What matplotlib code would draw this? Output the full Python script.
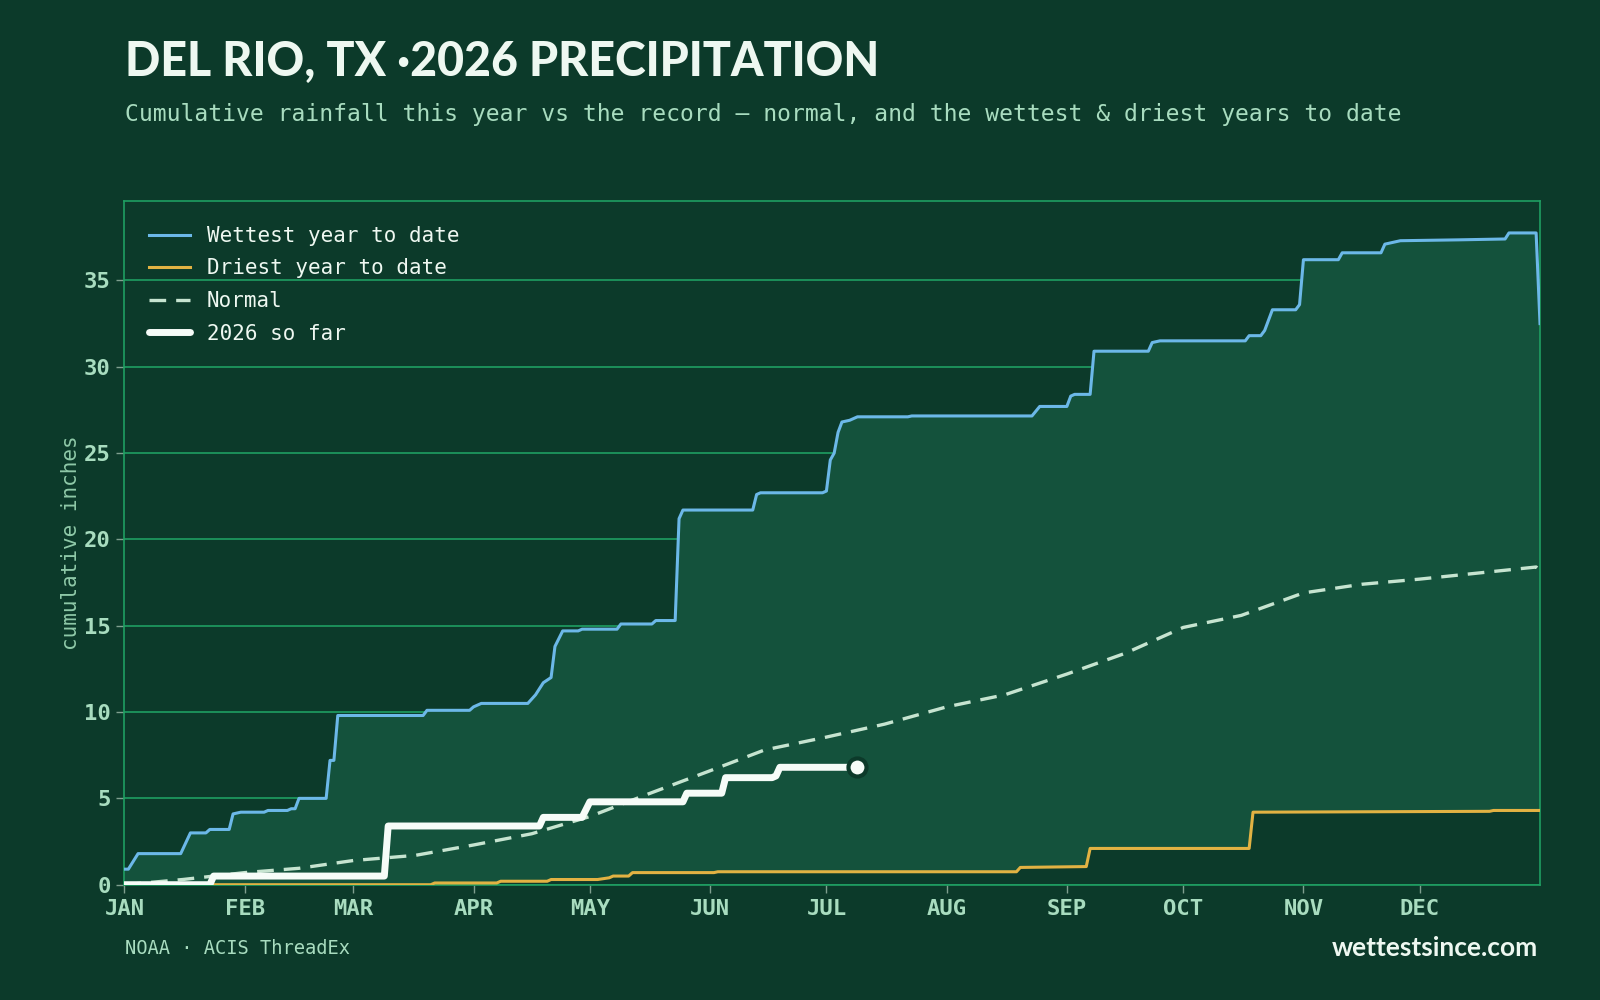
import numpy as np
import matplotlib
matplotlib.use("Agg")
import matplotlib.pyplot as plt

# ==================================
# DATA (day of year, cumulative inches)
# ==================================

month_labels = ["JAN", "FEB", "MAR", "APR", "MAY", "JUN",
                "JUL", "AUG", "SEP", "OCT", "NOV", "DEC"]
month_days = [0, 31, 59, 90, 120, 151, 181, 212, 243, 273, 304, 334]

wet_day = [0, 1, 3.5, 14.5, 17, 21, 22, 27, 28, 30, 36, 37, 42, 43, 44, 45,
           52, 53, 54, 55, 77, 78, 89, 90, 92, 104, 106, 108, 110, 111, 113,
           117, 118, 127, 128, 136, 137, 142, 143, 144, 162, 163, 164, 180,
           181, 182, 183, 184, 185, 187, 189, 202, 203, 234, 236, 243, 244,
           245, 249, 250, 264, 265, 267, 289, 290, 293, 294, 296, 302, 303,
           304, 313, 314, 324, 325, 329, 344, 356, 357, 364, 365]
wet_val = [0.9, 0.9, 1.8, 1.8, 3.0, 3.0, 3.2, 3.2, 4.1, 4.2, 4.2, 4.3, 4.3,
           4.4, 4.4, 5.0, 5.0, 7.2, 7.2, 9.8, 9.8, 10.1, 10.1, 10.3, 10.5,
           10.5, 11.0, 11.7, 12.0, 13.8, 14.7, 14.7, 14.8, 14.8, 15.1, 15.1,
           15.3, 15.3, 21.2, 21.7, 21.7, 22.6, 22.7, 22.7, 22.8, 24.6, 25.0,
           26.2, 26.8, 26.9, 27.1, 27.1, 27.15, 27.15, 27.7, 27.7, 28.3, 28.4,
           28.4, 30.9, 30.9, 31.4, 31.5, 31.5, 31.8, 31.8, 32.1, 33.3, 33.3,
           33.6, 36.2, 36.2, 36.6, 36.6, 37.1, 37.3, 37.35, 37.4, 37.75, 37.75,
           32.5]

dry_day = [0, 79, 80, 96, 97, 109, 110, 122, 125, 126, 130, 131, 152, 153,
           230, 231, 248, 249, 290, 291, 352, 353, 365]
dry_val = [0.0, 0.0, 0.1, 0.1, 0.2, 0.2, 0.3, 0.3, 0.4, 0.5, 0.5, 0.7, 0.7,
           0.75, 0.75, 1.0, 1.05, 2.1, 2.1, 4.2, 4.25, 4.3, 4.3]

normal_day = [0, 15, 31, 45, 59, 75, 90, 105, 120, 135, 151, 165, 181, 196,
              212, 227, 243, 258, 273, 288, 304, 319, 334, 349, 364, 365]
normal_val = [0.0, 0.3, 0.7, 0.95, 1.4, 1.7, 2.3, 2.95, 3.95, 5.25, 6.6, 7.8,
              8.55, 9.3, 10.3, 11.0, 12.2, 13.4, 14.9, 15.6, 16.9, 17.4, 17.7,
              18.05, 18.4, 18.2]

now_day = [0, 22, 23, 67, 68, 107, 108, 118, 120, 144, 145, 154, 155, 167,
           168, 169, 189]
now_val = [0.0, 0.0, 0.5, 0.5, 3.4, 3.4, 3.9, 3.9, 4.8, 4.8, 5.3, 5.3, 6.2,
           6.2, 6.3, 6.8, 6.8]

# ==================================
# STYLE
# ==================================

BG = "#0c3a2a"
BAND = "#14523c"
GRID = "#1f9e62"
TICK = "#a8dcbf"
TEXT = "#eef8f1"

mono = "DejaVu Sans Mono"

fig = plt.figure(figsize=(16, 10), dpi=100, facecolor=BG)
ax = fig.add_axes([0.0778, 0.1153, 0.8847, 0.6837], facecolor=BG)

# band between driest and wettest
ax.fill(np.concatenate([wet_day, dry_day[::-1]]),
        np.concatenate([wet_val, dry_val[::-1]]),
        color=BAND, lw=0, zorder=1)

ax.plot(wet_day, wet_val, color="#6cb8e8", lw=2.2, label="Wettest year to date", zorder=3)
ax.plot(dry_day, dry_val, color="#e2b243", lw=2.2, label="Driest year to date", zorder=3)
ax.plot(normal_day, normal_val, color="#c6e4d0", lw=2.4, ls=(0, (5, 3)),
        label="Normal", zorder=3)
ax.plot(now_day, now_val, color="#f6fcf8", lw=5, solid_capstyle="round",
        label="2026 so far", zorder=4)
ax.plot(now_day[-1], now_val[-1], "o", ms=13, mfc="#f6fcf8", mec=BG,
        mew=3, zorder=5)

ax.set_xlim(0, 365)
ax.set_ylim(0, 39.6)

ax.set_yticks([0, 5, 10, 15, 20, 25, 30, 35])
ax.set_xticks(month_days)
ax.set_xticklabels(month_labels)
ax.grid(axis="y", color=GRID, lw=1.2, zorder=0)
ax.set_axisbelow(True)

for s in ax.spines.values():
    s.set_color(GRID)
    s.set_linewidth(1.2)

ax.tick_params(colors="#7f9f8f", length=6, width=1, pad=4)
for lab in ax.get_xticklabels() + ax.get_yticklabels():
    lab.set_fontfamily(mono)
    lab.set_fontweight("bold")
    lab.set_fontsize(16)
    lab.set_color(TICK)

ax.set_ylabel("cumulative inches", fontfamily=mono, fontsize=15,
              color="#8fc9a8", labelpad=2)

leg = ax.legend(loc="upper left", frameon=False, handlelength=1.95,
                borderaxespad=0.8, labelspacing=0.6,
                prop={"family": mono, "size": 15})
for t in leg.get_texts():
    t.set_color(TEXT)

# ==================================
# TITLES / FOOTER
# ==================================

fig.text(0.078, 0.938, "DEL RIO, TX \u00b72026 PRECIPITATION", fontfamily="Lato",
         fontweight="black", fontsize=33.5, color=TEXT, va="center")
fig.text(0.078, 0.885, "Cumulative rainfall this year vs the record \u2014 normal, "
         "and the wettest & driest years to date",
         fontfamily=mono, fontsize=16.6, color="#a8dcbf", va="center")
fig.text(0.078, 0.052, "NOAA \u00b7 ACIS ThreadEx", fontfamily=mono,
         fontsize=13.5, color="#a8dcbf", va="center")
fig.text(0.9615, 0.052, "wettestsince.com", fontfamily="Lato",
         fontweight="bold", fontsize=19, color=TEXT, va="center", ha="right")

fig.savefig("out.png", dpi=100, facecolor=BG)
